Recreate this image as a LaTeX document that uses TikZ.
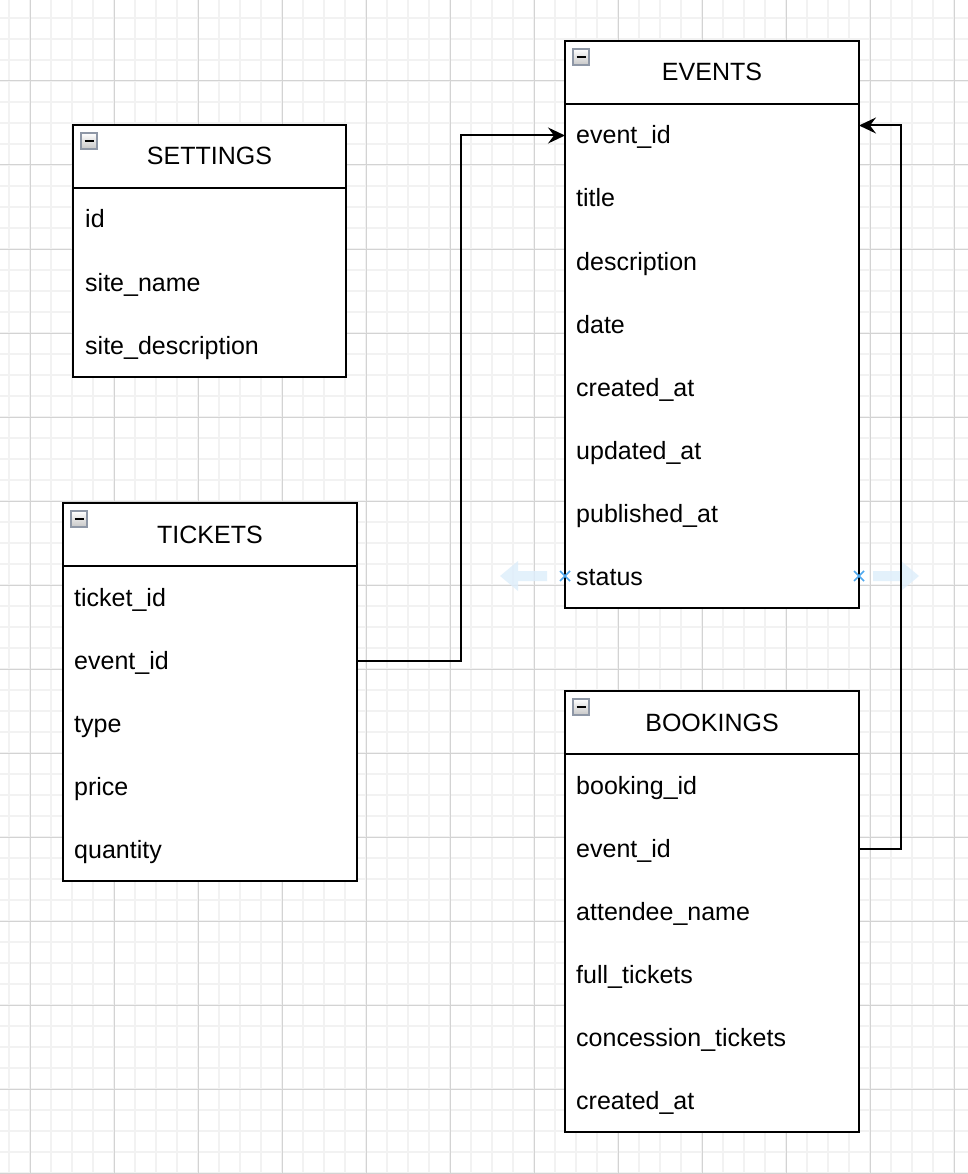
\documentclass[tikz,border=0pt]{standalone}
\usepackage{fontspec}
\setmainfont{Liberation Sans}
\usetikzlibrary{arrows.meta,calc}

\definecolor{gridminor}{HTML}{F2F2F2}
\definecolor{gridmajor}{HTML}{D3D3D3}
\definecolor{iconborder}{HTML}{8E97A6}
\definecolor{hoverblue}{HTML}{DDEEFB}
\definecolor{markblue}{HTML}{4FA8EE}

\tikzset{
  tablebox/.style={draw=black, line width=2pt, fill=white, anchor=north west,
    inner sep=0pt, outer sep=0pt},
  headbox/.style={tablebox, minimum height=63pt, font=\fontsize{25}{30}\selectfont,
    text height=17pt, text depth=0pt},
  fieldtext/.style={anchor=west, inner sep=0pt, font=\fontsize{25}{30}\selectfont,
    text height=17pt, text depth=0pt},
  iconbox/.style={draw=iconborder, line width=1.5pt, top color=white, bottom color=black!22,
    anchor=north west, minimum size=16pt, inner sep=0pt, outer sep=0pt,
    path picture={\draw[black, line width=2.4pt] ([xshift=3.5pt]path picture bounding box.west)
      -- ([xshift=-3.5pt]path picture bounding box.east);}},
  relation/.style={line width=2pt, -{Stealth[length=17pt, width=16pt, inset=6pt]}},
}

\begin{document}
\begin{tikzpicture}[x=1pt, y=-1pt]
    \useasboundingbox (0,0) rectangle (968,1174);
    \fill[white] (0,0) rectangle (968,1174);

    % Grid
    \foreach \gx in {9,30,...,968}
        \draw[gridminor, line width=1.5pt] (\gx,0) -- (\gx,1174);
    \foreach \gy in {18,39,...,1174}
        \draw[gridminor, line width=1.5pt] (0,\gy) -- (968,\gy);
    \foreach \gx in {30,114,...,968}
        \draw[gridmajor, line width=1pt] (\gx,0) -- (\gx,1174);
    \foreach \gy in {81,165,...,1174}
        \draw[gridmajor, line width=1pt] (0,\gy) -- (968,\gy);

    % SETTINGS
    \node[tablebox, minimum width=273pt, minimum height=252pt] (settings) at (73,125) {};
    \node[headbox, minimum width=273pt] (settingsHead) at (73,125) {SETTINGS};
    \node[iconbox] (settingsIcon) at (81,133) {};
    \foreach \f [count=\i] in {id,site\_name,site\_description}
        \node[fieldtext] (st\i) at (85,125+63*\i+31.5) {\f};

    % EVENTS
    \node[tablebox, minimum width=294pt, minimum height=567pt] (events) at (565,41) {};
    \node[headbox, minimum width=294pt] (eventsHead) at (565,41) {EVENTS};
    \node[iconbox] (eventsIcon) at (573,49) {};
    \foreach \f [count=\i] in {event\_id,title,description,date,created\_at,updated\_at,published\_at,status}
        \node[fieldtext] (ev\i) at (576,41+63*\i+31.5) {\f};

    % TICKETS
    \node[tablebox, minimum width=294pt, minimum height=378pt] (tickets) at (63,503) {};
    \node[headbox, minimum width=294pt] (ticketsHead) at (63,503) {TICKETS};
    \node[iconbox] (ticketsIcon) at (71,511) {};
    \foreach \f [count=\i] in {ticket\_id,event\_id,type,price,quantity}
        \node[fieldtext] (tk\i) at (74,503+63*\i+31.5) {\f};

    % BOOKINGS
    \node[tablebox, minimum width=294pt, minimum height=441pt] (bookings) at (565,691) {};
    \node[headbox, minimum width=294pt] (bookingsHead) at (565,691) {BOOKINGS};
    \node[iconbox] (bookingsIcon) at (573,699) {};
    \foreach \f [count=\i] in {booking\_id,event\_id,attendee\_name,full\_tickets,concession\_tickets,created\_at}
        \node[fieldtext] (bk\i) at (576,691+63*\i+31.5) {\f};

    % hover handles on status
    \fill[hoverblue, opacity=0.8] (547,571) -- (518,571) -- (518,561) -- (500,576)
        -- (518,591) -- (518,581) -- (547,581) -- cycle;
    \fill[hoverblue, opacity=0.8] (873,571) -- (901,571) -- (901,561) -- (919,576)
        -- (901,591) -- (901,581) -- (873,581) -- cycle;
    \draw[markblue, line width=1.5pt] (560,571) -- (570,581) (560,581) -- (570,571);
    \draw[markblue, line width=1.5pt] (854,571) -- (864,581) (854,581) -- (864,571);

    % Relations
    \draw[relation] (tickets.east |- tk2) -- ++(104,0) |- (events.west |- ev1);
    \draw[relation] (bookings.east |- bk2) -- ++(42,0) |- ([yshift=10pt]events.east |- ev1);
\end{tikzpicture}
\end{document}
